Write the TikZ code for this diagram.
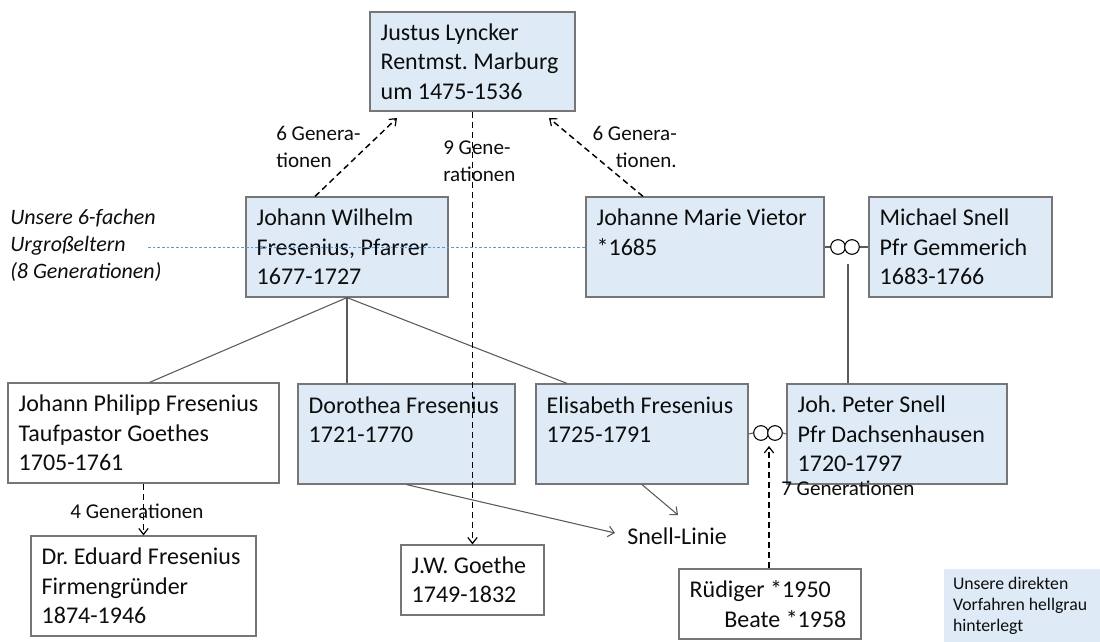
\documentclass[tikz,border=0pt]{standalone}
\usepackage{fontspec}
\setmainfont{Carlito}
\frenchspacing
\usetikzlibrary{arrows.meta,calc,shapes.geometric}
\definecolor{boxblue}{RGB}{222,235,247}
\definecolor{boxline}{RGB}{118,118,118}
\definecolor{conline}{RGB}{90,90,90}
\definecolor{dotblue}{RGB}{91,155,213}
\definecolor{txt}{RGB}{13,13,13}
\tikzset{
  person/.style={draw=boxline, line width=0.9pt, fill=boxblue, inner sep=0pt},
  other/.style={person, fill=white},
  ptext/.style={anchor=west, inner sep=0pt, align=flush left, text=txt, font=\fontsize{18}{22}\selectfont},
  conn/.style={draw=conline, line width=0.8pt},
  gen/.style={draw=black, line width=1.1pt, dash pattern=on 4.5pt off 3pt,
    -{Straight Barb[length=4.5pt,width=7pt,line width=0.9pt]}},
  genlabel/.style={inner sep=0pt, text=txt, font=\fontsize{15.8}{20.25}\selectfont},
  ring/.style={circle, draw=black, line width=0.8pt, fill=white, minimum size=11pt, inner sep=0pt},
}
\begin{document}
\begin{tikzpicture}[x=0.75pt,y=-0.75pt]
\useasboundingbox (0,0) rectangle (1100,642);

% person boxes
\node[person, minimum width=153.75pt, minimum height=74.25pt] (justus) at (472.5,61.5) {};
\node[person, minimum width=151.5pt, minimum height=75pt] (jw) at (347,247) {};
\node[person, minimum width=178.5pt, minimum height=75pt] (vietor) at (705,247) {};
\node[person, minimum width=137.25pt, minimum height=75pt] (michael) at (960.5,247) {};
\node[other, minimum width=203.25pt, minimum height=75pt] (jp) at (143.5,433) {};
\node[person, minimum width=162.75pt, minimum height=75pt] (dor) at (406.5,434) {};
\node[person, minimum width=159pt, minimum height=75pt] (eli) at (642,434) {};
\node[person, minimum width=165pt, minimum height=75pt] (peter) at (897,434) {};
\node[other, minimum width=168.75pt, minimum height=75pt] (ed) at (143.5,586) {};
\node[other, minimum width=107.25pt, minimum height=52.5pt] (goethe) at (472.5,580) {};
\node[other, minimum width=136.5pt, minimum height=52.5pt] (rued) at (770,604) {};

% texts of the boxes
\node[ptext] (justus-t) at ($(justus.west)+(11,0)$) {Justus Lyncker\\Rentmst. Marburg\\um 1475-1536};
\node[ptext] (jw-t) at ($(jw.west)+(11,0)$) {Johann Wilhelm\\Fresenius, Pfarrer\\1677-1727};
\node[ptext] (vietor-t) at ($(vietor.west)+(11,0)$) {Johanne Marie Vietor\\{*}1685\\\vphantom{1}};
\node[ptext] (michael-t) at ($(michael.west)+(11,0)$) {Michael Snell\\Pfr Gemmerich\\1683-1766};
\node[ptext] (jp-t) at ($(jp.west)+(11,0)$) {Johann Philipp Fresenius\\Taufpastor Goethes\\1705-1761};
\node[ptext] (dor-t) at ($(dor.west)+(11,0)$) {Dorothea Fresenius\\1721-1770\\\vphantom{1}};
\node[ptext] (eli-t) at ($(eli.west)+(11,0)$) {Elisabeth Fresenius\\1725-1791\\\vphantom{1}};
\node[ptext] (peter-t) at ($(peter.west)+(11,0)$) {Joh. Peter Snell\\Pfr Dachsenhausen\\1720-1797};
\node[ptext] (ed-t) at ($(ed.west)+(11,0)$) {Dr. Eduard Fresenius\\Firmengründer\\1874-1946};
\node[ptext] (goethe-t) at ($(goethe.west)+(11,0)$) {J.W. Goethe\\1749-1832};
\node[ptext] (rued-t) at ($(rued.west)+(11,0)$) {Rüdiger {*}1950\\\hspace*{26pt}Beate {*}1958};

% legend
\node[fill=boxblue, minimum width=117pt, minimum height=54.75pt, inner sep=0pt] (legend) at (1022,605.5) {};
\node[anchor=west, inner sep=0pt, align=flush left, text=txt, font=\fontsize{13.3}{15.75}\selectfont] (legend-t)
  at ($(legend.west)+(9,0)$) {Unsere direkten\\Vorfahren hellgrau\\hinterlegt};

% side note
\node[anchor=west, inner sep=0pt, align=flush left, text=txt, font=\fontsize{16.5}{20.25}\selectfont\itshape] (note) at (10,245)
  {Unsere 6-fachen\\Urgroßeltern\\(8 Generationen)};

% Snell-Linie
\node[anchor=west, inner xsep=9pt, inner ysep=2pt, text=txt, font=\fontsize{18}{22}\selectfont] (snell) at (615,536) {Snell-Linie};

% marriage rings
\node[ring] (r1a) at (838,247) {};
\node[ring] (r1b) at (852,247) {};
\node[ring] (r2a) at (761,433) {};
\node[ring] (r2b) at (775,433) {};
\draw[conn] (vietor.east) -- (r1a.west);
\draw[conn] (r1b.east) -- (michael.west);
\draw[conn] (eli.east) -- (r2a.west);
\draw[conn] (r2b.east) -- (peter.west);

% helper coordinates
\coordinate (mj) at (848,264);
\coordinate (jltip) at (397,118);
\coordinate (jrtip) at (549,118);
\coordinate (r2tip) at (769,446);
\coordinate (snelltop) at (678,515);

% family lines
\draw[conn] (jw.south) -- ($(jp.north)+(6,0)$);
\draw[conn] (jw.south) -- (jw.south |- dor.north);
\draw[conn] (jw.south) -- ($(eli.north)+(-75,0)$);
\draw[conn] (mj) -- (mj |- peter.north);
\draw[conn, -{Straight Barb[length=4.5pt,width=8pt,line width=0.8pt]}] (dor.south) -- ($(snell.west)+(0,-3)$);
\draw[conn, -{Straight Barb[length=4.5pt,width=8pt,line width=0.8pt]}] (eli.south) -- (snelltop);

% generation arrows
\draw[gen] ($(jw.north)+(-32,0)$) -- (jltip);
\draw[gen] ($(vietor.north)+(-62,0)$) -- (jrtip);
\draw[gen] (justus.south) -- (goethe.north);
\draw[gen] (jp.south) -- (ed.north);
\draw[gen] (rued.north -| r2tip) -- (r2tip);

% labels
\node[genlabel, anchor=west, align=flush left] (l1) at (276,146.5) {6 Genera-\\tionen};
\node[genlabel, anchor=east, align=flush right] (l2) at (677,146.5) {6 Genera-\\tionen.};
\node[genlabel, anchor=west, align=flush left] (l3) at (443,161.5) {9 Gene-\\rationen};
\node[genlabel] (l4) at (137,511) {4 Generationen};
\node[genlabel, anchor=west] (l5) at (781,488) {7 Generationen};

% dotted guide line
\draw[dotblue, line width=0.7pt, dash pattern=on 2pt off 1.5pt] (148,247) -- (vietor.west);
\end{tikzpicture}
\end{document}
